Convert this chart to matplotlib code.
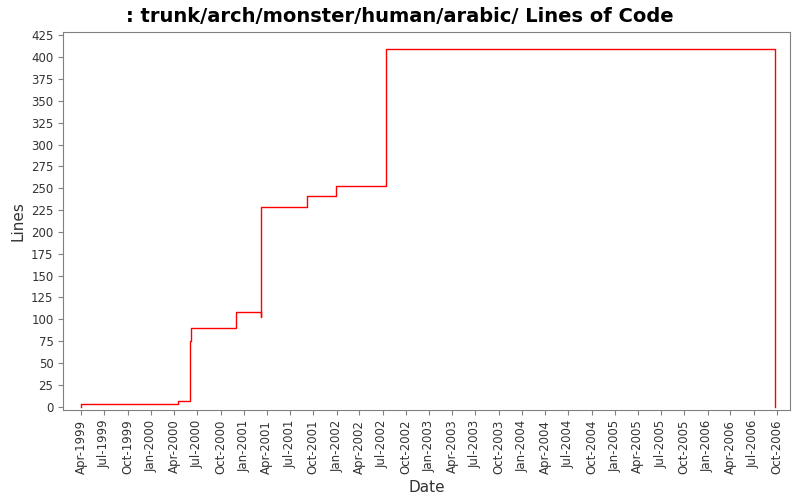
import matplotlib
matplotlib.use("Agg")
import matplotlib.pyplot as plt
import matplotlib.dates as mdates
import pandas as pd

dates = ["1999-04-01", "1999-04-02", "2000-04-15", "2000-06-01", "2000-06-05", "2000-12-01",
         "2001-03-08", "2001-03-09", "2001-09-05", "2001-12-28", "2002-07-15", "2006-09-25"]
lines = [0, 3, 6, 75, 90, 108, 102, 229, 241, 253, 410, 0]

x = pd.to_datetime(dates)
fig = plt.figure(figsize=(8, 5), dpi=100)
ax = fig.add_axes([0.079, 0.18, 0.908, 0.756])
ax.step(x, lines, where="post", color="red", lw=1)
ax.set_xlim(pd.Timestamp("1999-01-20"), pd.Timestamp("2006-11-20"))
ax.set_ylim(-4, 429)
ax.set_yticks(range(0, 426, 25))
ax.xaxis.set_major_locator(mdates.MonthLocator(bymonth=[1, 4, 7, 10]))
ax.xaxis.set_major_formatter(mdates.DateFormatter("%b-%Y"))
for lab in ax.get_xticklabels():
    lab.set_rotation(90)
ax.tick_params(labelsize=8.5, color="gray", labelcolor="#333333")
for s in ax.spines.values():
    s.set_color("gray")
ax.set_xlabel("Date", fontsize=11, color="#333333")
ax.set_ylabel("Lines", fontsize=11, color="#333333")
fig.suptitle(": trunk/arch/monster/human/arabic/ Lines of Code", fontsize=14, fontweight="bold", y=0.985)
fig.savefig("out.png")
